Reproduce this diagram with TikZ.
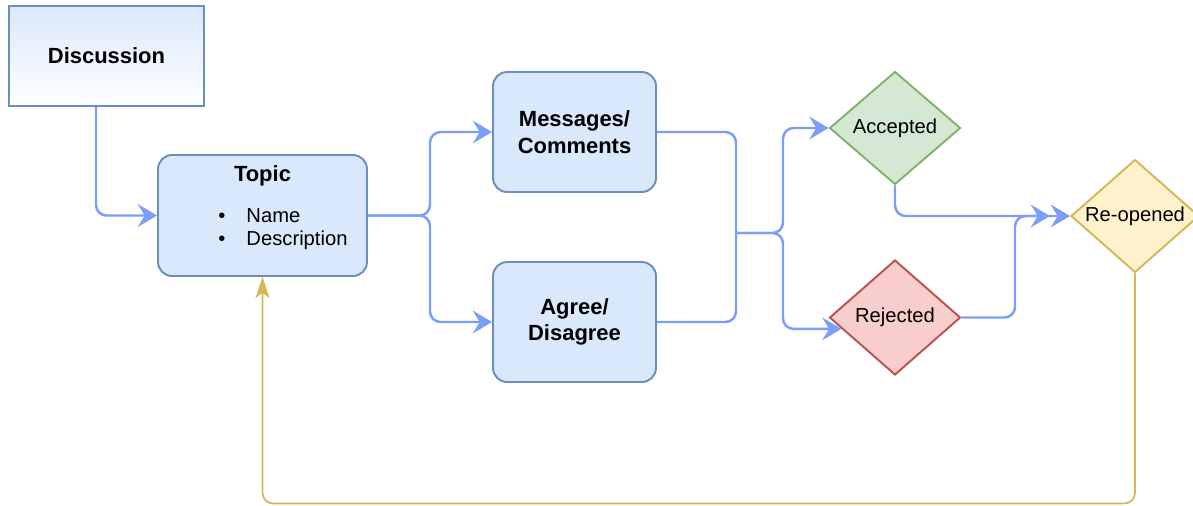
\documentclass[tikz,border=0pt]{standalone}
\usepackage{fontspec}
\setmainfont{Liberation Sans}
\usetikzlibrary{arrows.meta,positioning,calc,shapes.geometric}
\definecolor{boxfill}{HTML}{DAE8FC}
\definecolor{boxline}{HTML}{6C8EBF}
\definecolor{flowblue}{HTML}{7A9EFA}
\definecolor{accfill}{HTML}{D5E8D4}
\definecolor{accline}{HTML}{82B366}
\definecolor{rejfill}{HTML}{F8CECC}
\definecolor{rejline}{HTML}{B85450}
\definecolor{reofill}{HTML}{FFF2CC}
\definecolor{reoline}{HTML}{D6B656}

\begin{document}
\begin{tikzpicture}[x=0.02cm, y=-0.02cm,
  box/.style={draw=boxline, fill=boxfill, line width=1.1pt, rounded corners=8pt,
    align=center, font=\fontsize{12.5}{15}\selectfont\bfseries,
    minimum width=3.26cm, minimum height=2.4cm},
  state/.style={diamond, line width=1.1pt, inner sep=0pt,
    font=\fontsize{11.5}{13}\selectfont},
  link/.style={draw=flowblue, line width=1.4pt, rounded corners=6pt},
  flow/.style={link, -{Stealth[length=11pt,width=13pt,inset=4pt]}},
  back/.style={draw=reoline, line width=1pt, rounded corners=6pt,
    -{Stealth[length=12pt,width=8pt,inset=3pt]}}
]
  \useasboundingbox (0,0) rectangle (1193,505);

  \node[draw=boxline, line width=1.4pt, top color=boxfill, bottom color=white,
    minimum width=3.9cm, minimum height=2cm,
    font=\fontsize{12.5}{15}\selectfont\bfseries] (disc) at (106.5,56) {Discussion};

  \node[box, minimum width=4.18cm, minimum height=2.42cm] (topic) at (262.5,215.5) {};
  \node[font=\fontsize{12.5}{15}\selectfont\bfseries] (topictitle) at (262.5,176) {Topic};
  \node[anchor=west, align=left, inner sep=0pt,
    font=\fontsize{11.5}{13}\selectfont] (topiclist) at (218,229.5)
    {\textbullet\hspace{12pt}Name\\\textbullet\hspace{12pt}Description};

  \node[box] (msg) at (574.5,132) {Messages/\\Comments};
  \node[box] (agree) at (574.5,322) {Agree/\\Disagree};

  \node[state, draw=accline, fill=accfill, minimum width=2.62cm, minimum height=2.26cm,
    aspect=1.16] (acc) at (895,128) {Accepted};
  \node[state, draw=rejline, fill=rejfill, minimum width=2.62cm, minimum height=2.3cm,
    aspect=1.14] (rej) at (895,317.5) {Rejected};
  \node[state, draw=reoline, fill=reofill, minimum width=2.56cm, minimum height=2.26cm,
    aspect=1.13] (reo) at (1135,216) {Re-opened};

  \coordinate (split) at (430,215.5);
  \coordinate (join) at (736,233);
  \coordinate (fork) at (783,233);
  \coordinate (merge) at (1050,216);

  \draw[flow] ($(disc.south)+(-10.5,0)$) |- (topic.west);
  \draw[flow] (topic.east) -- (split) |- (msg.west);
  \draw[flow] (topic.east) -- (split) |- (agree.west);
  \draw[link] (msg.east) -| (join);
  \draw[link] (agree.east) -| (join);
  \draw[flow] (join) -- (fork) |- (acc.west);
  \draw[flow] (join) -- (fork) |- (rej.192);
  \draw[flow] (acc.south) |- (reo.west);
  \draw[flow] (rej.east) -| ($(merge)+(-35,0)$) -- (merge);
  \draw[back] (reo.south) -- ++(0,230) -| (topic.south);
\end{tikzpicture}
\end{document}
